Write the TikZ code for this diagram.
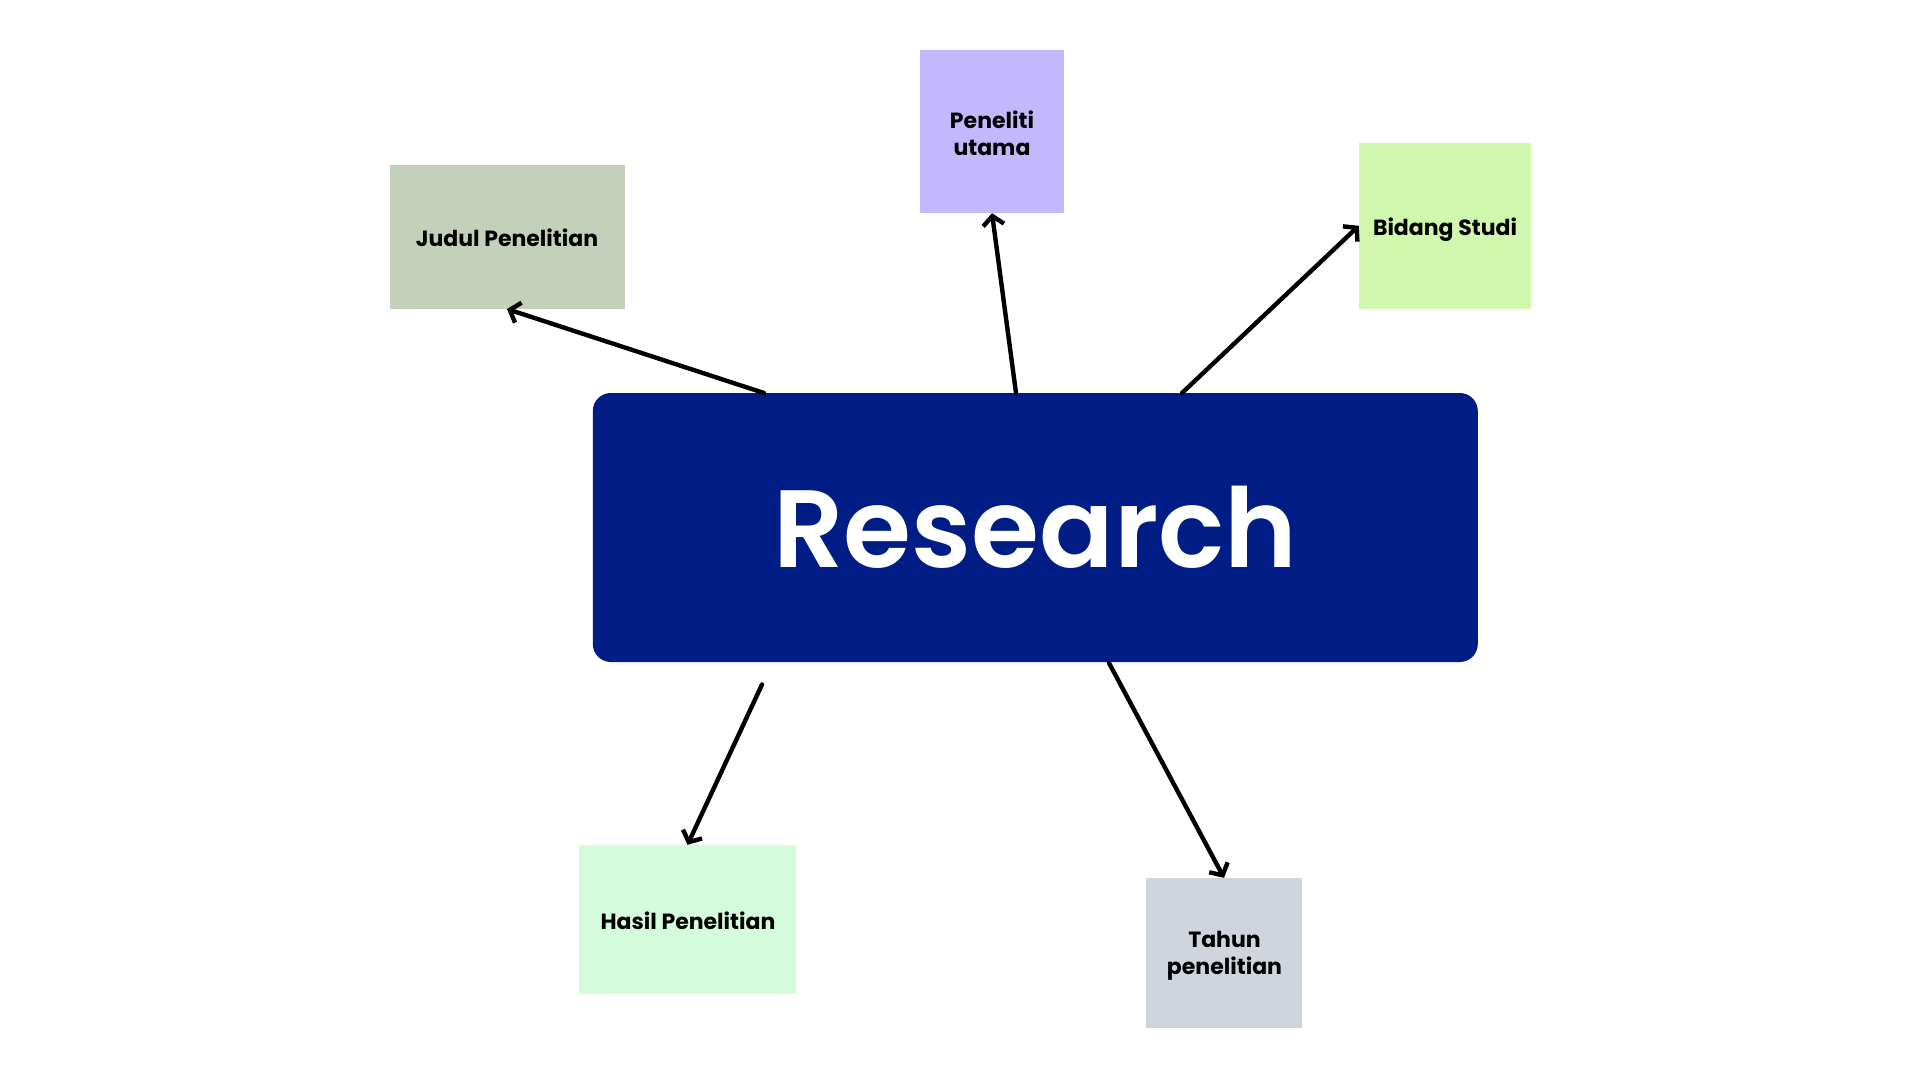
\documentclass[tikz,border=0pt]{standalone}
\usepackage{fontspec}
\setmainfont{Poppins}
\newfontfamily\labelfont{Poppins}[UprightFont=* Bold]
\newfontfamily\titlefont{Poppins}[UprightFont=* SemiBold]
\usetikzlibrary{arrows.meta}
\definecolor{cjudul}{HTML}{C4D0B9}
\definecolor{cpeneliti}{HTML}{C3B8FD}
\definecolor{cbidang}{HTML}{CFF7AE}
\definecolor{chasil}{HTML}{D4FCDA}
\definecolor{ctahun}{HTML}{D0D4DC}
\definecolor{cres}{HTML}{001C85}
\tikzset{
  card/.style={draw=none, inner sep=0pt, align=center, font=\labelfont\fontsize{22}{27}\selectfont, text=black},
  conn/.style={line width=4.4pt, draw=black, line cap=round, -{Straight Barb[length=9pt,width=21pt,line width=4.4pt]}}
}
\begin{document}
\begin{tikzpicture}[x=1pt,y=-1pt]
\useasboundingbox (0,0) rectangle (1920,1080);
\fill[white] (0,0) rectangle (1920,1080);
\node[fill=cres, rounded corners=18pt, minimum width=885pt, minimum height=269pt, inner sep=0pt, text=white, font=\titlefont\fontsize{110}{120}\selectfont] (res) at (1035.3,527.5) {Research};
\node[card, fill=cjudul, minimum width=235pt, minimum height=143.6pt] (judul) at (507,237) {};
\node[card] (judultxt) at (507,238) {Judul Penelitian};
\node[card, fill=cpeneliti, minimum width=144pt, minimum height=163pt] (peneliti) at (992,131.5) {};
\node[card] (penelititxt) at (992,133) {Peneliti\\utama};
\node[card, fill=cbidang, minimum width=172pt, minimum height=165.6pt] (bidang) at (1445,225.8) {};
\node[card] (bidangtxt) at (1445,230) {Bidang Studi};
\node[card, fill=chasil, minimum width=217pt, minimum height=149pt] (hasil) at (687.5,919.5) {};
\node[card] (hasiltxt) at (688,921) {Hasil Penelitian};
\node[card, fill=ctahun, minimum width=156pt, minimum height=150pt] (tahun) at (1224,953) {};
\node[card] (tahuntxt) at (1224.5,956) {Tahun\\penelitian};
\coordinate (s1) at (764,393);
\coordinate (s2) at (1016,393);
\coordinate (s3) at (1182,393);
\coordinate (s4) at (762,684.5);
\coordinate (s5) at (1109,663);
\draw[conn] (s1) -- (judul.south);
\draw[conn] (s2) -- (peneliti.south);
\draw[conn] (s3) -- (bidang.west);
\draw[conn] (s4) -- (hasil.north);
\draw[conn] (s5) -- (tahun.north);
\end{tikzpicture}
\end{document}
